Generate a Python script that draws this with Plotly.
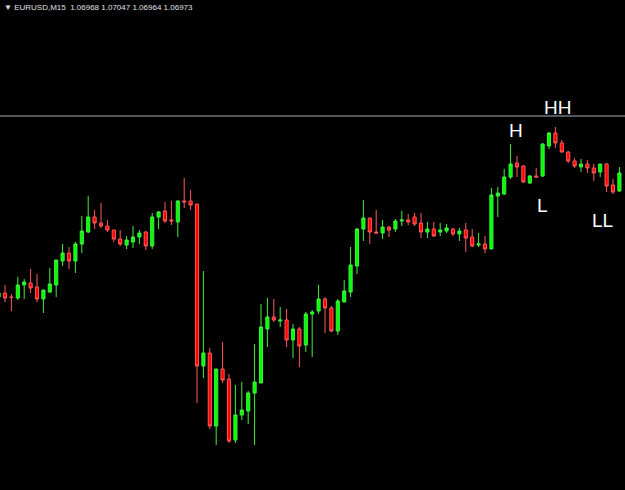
import plotly.graph_objects as go

# EURUSD M15 candles
opens = [1.06806, 1.06814, 1.06806, 1.06804, 1.06830, 1.06834, 1.06826, 1.06802, 1.06816, 1.06830,
         1.06878, 1.06894, 1.06878, 1.06912, 1.06936, 1.06966, 1.06954, 1.06948, 1.06940, 1.06922,
         1.06910, 1.06916, 1.06926, 1.06936, 1.06908, 1.06966, 1.06978, 1.06960, 1.06956, 1.06998,
         1.06998, 1.06992, 1.06668, 1.06694, 1.06548, 1.06662, 1.06642, 1.06520, 1.06570, 1.06578,
         1.06614, 1.06634, 1.06742, 1.06766, 1.06758, 1.06760, 1.06720, 1.06742, 1.06710, 1.06772,
         1.06778, 1.06802, 1.06784, 1.06738, 1.06796, 1.06816, 1.06868, 1.06942, 1.06964, 1.06936,
         1.06934, 1.06946, 1.06942, 1.06958, 1.06960, 1.06966, 1.06954, 1.06936, 1.06942, 1.06936,
         1.06938, 1.06942, 1.06932, 1.06940, 1.06926, 1.06910, 1.06912, 1.06902, 1.07008, 1.07012,
         1.07046, 1.07074, 1.07068, 1.07034, 1.07048, 1.07048, 1.07108, 1.07134, 1.07114, 1.07096,
         1.07078, 1.07066, 1.07072, 1.07064, 1.07056, 1.07072, 1.07030, 1.07018]
highs = [1.06814, 1.06830, 1.06812, 1.06846, 1.06842, 1.06862, 1.06852, 1.06820, 1.06864, 1.06880,
         1.06912, 1.06906, 1.06916, 1.06968, 1.07008, 1.06980, 1.06994, 1.06960, 1.06940, 1.06940,
         1.06928, 1.06948, 1.06940, 1.06938, 1.06974, 1.06978, 1.06996, 1.06998, 1.07000, 1.07044,
         1.07020, 1.06992, 1.06858, 1.06704, 1.06662, 1.06716, 1.06652, 1.06630, 1.06636, 1.06618,
         1.06712, 1.06792, 1.06804, 1.06802, 1.06786, 1.06782, 1.06752, 1.06746, 1.06776, 1.06780,
         1.06830, 1.06806, 1.06788, 1.06802, 1.06840, 1.06906, 1.06944, 1.07000, 1.06964, 1.06980,
         1.06960, 1.06948, 1.06962, 1.06978, 1.06972, 1.06974, 1.06974, 1.06956, 1.06956, 1.06954,
         1.06952, 1.06944, 1.06944, 1.06954, 1.06942, 1.06934, 1.06928, 1.07024, 1.07026, 1.07062,
         1.07112, 1.07088, 1.07070, 1.07050, 1.07064, 1.07114, 1.07136, 1.07146, 1.07120, 1.07098,
         1.07084, 1.07082, 1.07080, 1.07072, 1.07072, 1.07074, 1.07042, 1.07066]
lows = [1.06806, 1.06796, 1.06778, 1.06800, 1.06802, 1.06814, 1.06796, 1.06774, 1.06814, 1.06806,
        1.06868, 1.06862, 1.06854, 1.06894, 1.06934, 1.06942, 1.06944, 1.06936, 1.06916, 1.06908,
        1.06902, 1.06904, 1.06912, 1.06900, 1.06902, 1.06942, 1.06954, 1.06950, 1.06926, 1.06984,
        1.06980, 1.06594, 1.06644, 1.06542, 1.06510, 1.06634, 1.06514, 1.06514, 1.06560, 1.06552,
        1.06510, 1.06634, 1.06706, 1.06756, 1.06746, 1.06706, 1.06684, 1.06666, 1.06696, 1.06686,
        1.06772, 1.06734, 1.06736, 1.06730, 1.06796, 1.06806, 1.06852, 1.06918, 1.06912, 1.06932,
        1.06922, 1.06926, 1.06936, 1.06948, 1.06950, 1.06948, 1.06924, 1.06924, 1.06926, 1.06928,
        1.06934, 1.06928, 1.06918, 1.06896, 1.06906, 1.06906, 1.06894, 1.06902, 1.06966, 1.07010,
        1.07042, 1.07046, 1.07034, 1.07032, 1.07044, 1.07046, 1.07102, 1.07104, 1.07094, 1.07074,
        1.07064, 1.07056, 1.07054, 1.07038, 1.07046, 1.07016, 1.07012, 1.07016]
closes = [1.06814, 1.06804, 1.06805, 1.06830, 1.06836, 1.06824, 1.06802, 1.06820, 1.06832, 1.06880,
          1.06894, 1.06878, 1.06912, 1.06938, 1.06966, 1.06954, 1.06948, 1.06940, 1.06922, 1.06912,
          1.06920, 1.06926, 1.06934, 1.06908, 1.06966, 1.06976, 1.06958, 1.06958, 1.06998, 1.06996,
          1.06990, 1.06668, 1.06694, 1.06548, 1.06662, 1.06640, 1.06518, 1.06570, 1.06580, 1.06614,
          1.06636, 1.06746, 1.06766, 1.06760, 1.06760, 1.06720, 1.06742, 1.06708, 1.06772, 1.06776,
          1.06802, 1.06784, 1.06738, 1.06798, 1.06818, 1.06870, 1.06942, 1.06964, 1.06936, 1.06934,
          1.06946, 1.06940, 1.06958, 1.06960, 1.06956, 1.06952, 1.06936, 1.06942, 1.06928, 1.06940,
          1.06944, 1.06932, 1.06938, 1.06924, 1.06908, 1.06912, 1.06902, 1.07010, 1.07014, 1.07046,
          1.07072, 1.07066, 1.07036, 1.07048, 1.07046, 1.07112, 1.07134, 1.07114, 1.07096, 1.07078,
          1.07068, 1.07072, 1.07064, 1.07054, 1.07072, 1.07028, 1.07016, 1.07054]
bars = list(range(len(opens)))

level_price = 1.07168
labels = ["H", "HH", "L", "LL"]
label_x = [80.84, 87.4, 85.06, 94.36]
label_y = [1.07139, 1.07186, 1.06990, 1.06959]
header = "EURUSD,M15  1.06968 1.07047 1.06964 1.06973"

fig = go.Figure()
fig.add_trace(go.Candlestick(
    x=bars, open=opens, high=highs, low=lows, close=closes,
    increasing=dict(line=dict(color="#40f040", width=1), fillcolor="#00ff00"),
    decreasing=dict(line=dict(color="#ff5a5a", width=1), fillcolor="#ff0000"),
    whiskerwidth=0, showlegend=False, hoverinfo="skip",
))

fig.add_shape(type="line", xref="paper", x0=0, x1=1, yref="y", y0=level_price, y1=level_price,
              line=dict(color="#6e747c", width=1.5))

for t, xv, yv in zip(labels, label_x, label_y):
    fig.add_annotation(x=xv, y=yv, text=t, showarrow=False, xanchor="center", yanchor="middle",
                       font=dict(family="Liberation Sans, Arial", size=19, color="white"))

fig.add_annotation(xref="paper", yref="paper", x=0.003, y=0.998, xanchor="left", yanchor="top",
                   text="▼ " + header, showarrow=False,
                   font=dict(family="Liberation Sans, Arial", size=8, color="#e0e0e0"))

fig.update_layout(
    width=625, height=490, margin=dict(l=0, r=0, t=0, b=0),
    paper_bgcolor="black", plot_bgcolor="black",
    xaxis=dict(visible=False, range=[0.219, 97.875], rangeslider=dict(visible=False), fixedrange=True),
    yaxis=dict(visible=False, range=[1.06420, 1.07400], fixedrange=True),
)

fig.write_html("out.html")
